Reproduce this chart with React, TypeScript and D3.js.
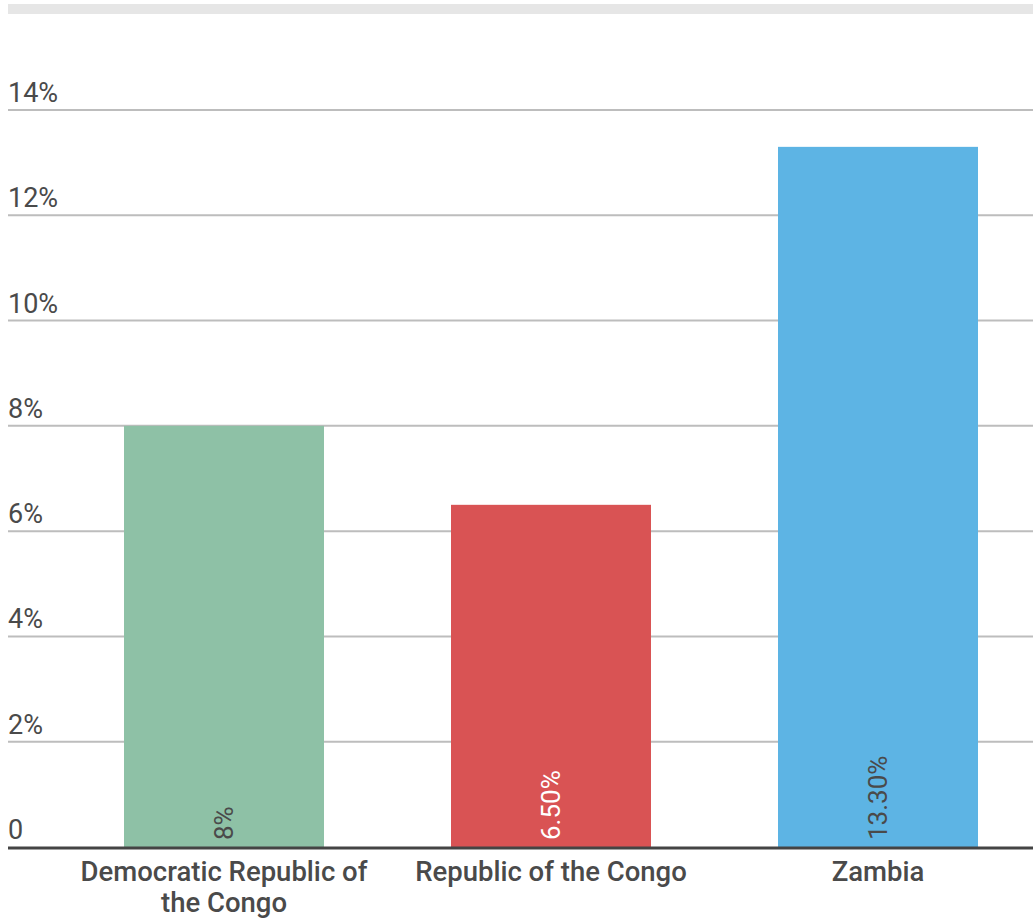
import * as d3 from 'd3'

const categories = ['Democratic Republic of the Congo', 'Republic of the Congo', 'Zambia']
const categoryLines = [['Democratic Republic of', 'the Congo'], ['Republic of the Congo'], ['Zambia']]
const values = [8, 6.5, 13.3]
const valueLabels = ['8%', '6.50%', '13.30%']
const barColors = ['#8ec1a6', '#d95354', '#5db4e4']
const valueLabelColors = ['#4a4a4a', '#ffffff', '#4a4a4a']
const yTicks = [0, 2, 4, 6, 8, 10, 12, 14]
const yTickLabels = ['0', '2%', '4%', '6%', '8%', '10%', '12%', '14%']

const App = () => {
  const width = 1033
  const height = 923
  const left = 8

  const yScale = d3.scaleLinear().domain([0, 14]).range([847, 110])
  const xScale = d3
    .scaleBand<string>()
    .domain(categories)
    .range([60.5, 1041.5])
    .paddingInner(0.3884)
    .paddingOuter(0.1942)

  const font = 'Roboto, "Noto Sans", sans-serif'

  return (
    <svg
      width={width}
      height={height}
      style={{ position: 'absolute', left: 0, top: 0, background: '#fff' }}
    >
      <rect x={left} y={4} width={width - left} height={10} fill={'#e6e6e6'} />
      {yTicks.map((t, i) => (
        <g key={t}>
          {t !== 0 && (
            <line
              x1={left}
              x2={width}
              y1={yScale(t)}
              y2={yScale(t)}
              stroke={'#bdbdbd'}
              strokeWidth={2}
            />
          )}
          <text
            x={left}
            y={yScale(t) - 8}
            fontFamily={font}
            fontSize={27}
            fill={'#4a4a4a'}
          >
            {yTickLabels[i]}
          </text>
        </g>
      ))}
      {categories.map((c, i) => {
        const x = xScale(c) ?? 0
        const cx = x + xScale.bandwidth() / 2
        return (
          <g key={c}>
            <rect
              x={x}
              y={yScale(values[i])}
              width={xScale.bandwidth()}
              height={yScale(0) - yScale(values[i])}
              fill={barColors[i]}
            />
            <text
              transform={`translate(${cx},${yScale(0) - 7}) rotate(-90)`}
              dominantBaseline={'central'}
              fontFamily={font}
              fontSize={26}
              fill={valueLabelColors[i]}
            >
              {valueLabels[i]}
            </text>
            {categoryLines[i].map((line, j) => (
              <text
                key={j}
                x={cx}
                y={881 + j * 31}
                textAnchor={'middle'}
                fontFamily={font}
                fontSize={27.5}
                fontWeight={500}
                fill={'#4a4a4a'}
              >
                {line}
              </text>
            ))}
          </g>
        )
      })}
      <line
        x1={left}
        x2={width}
        y1={yScale(0) + 1}
        y2={yScale(0) + 1}
        stroke={'#444'}
        strokeWidth={3}
      />
    </svg>
  )
}

export default App
